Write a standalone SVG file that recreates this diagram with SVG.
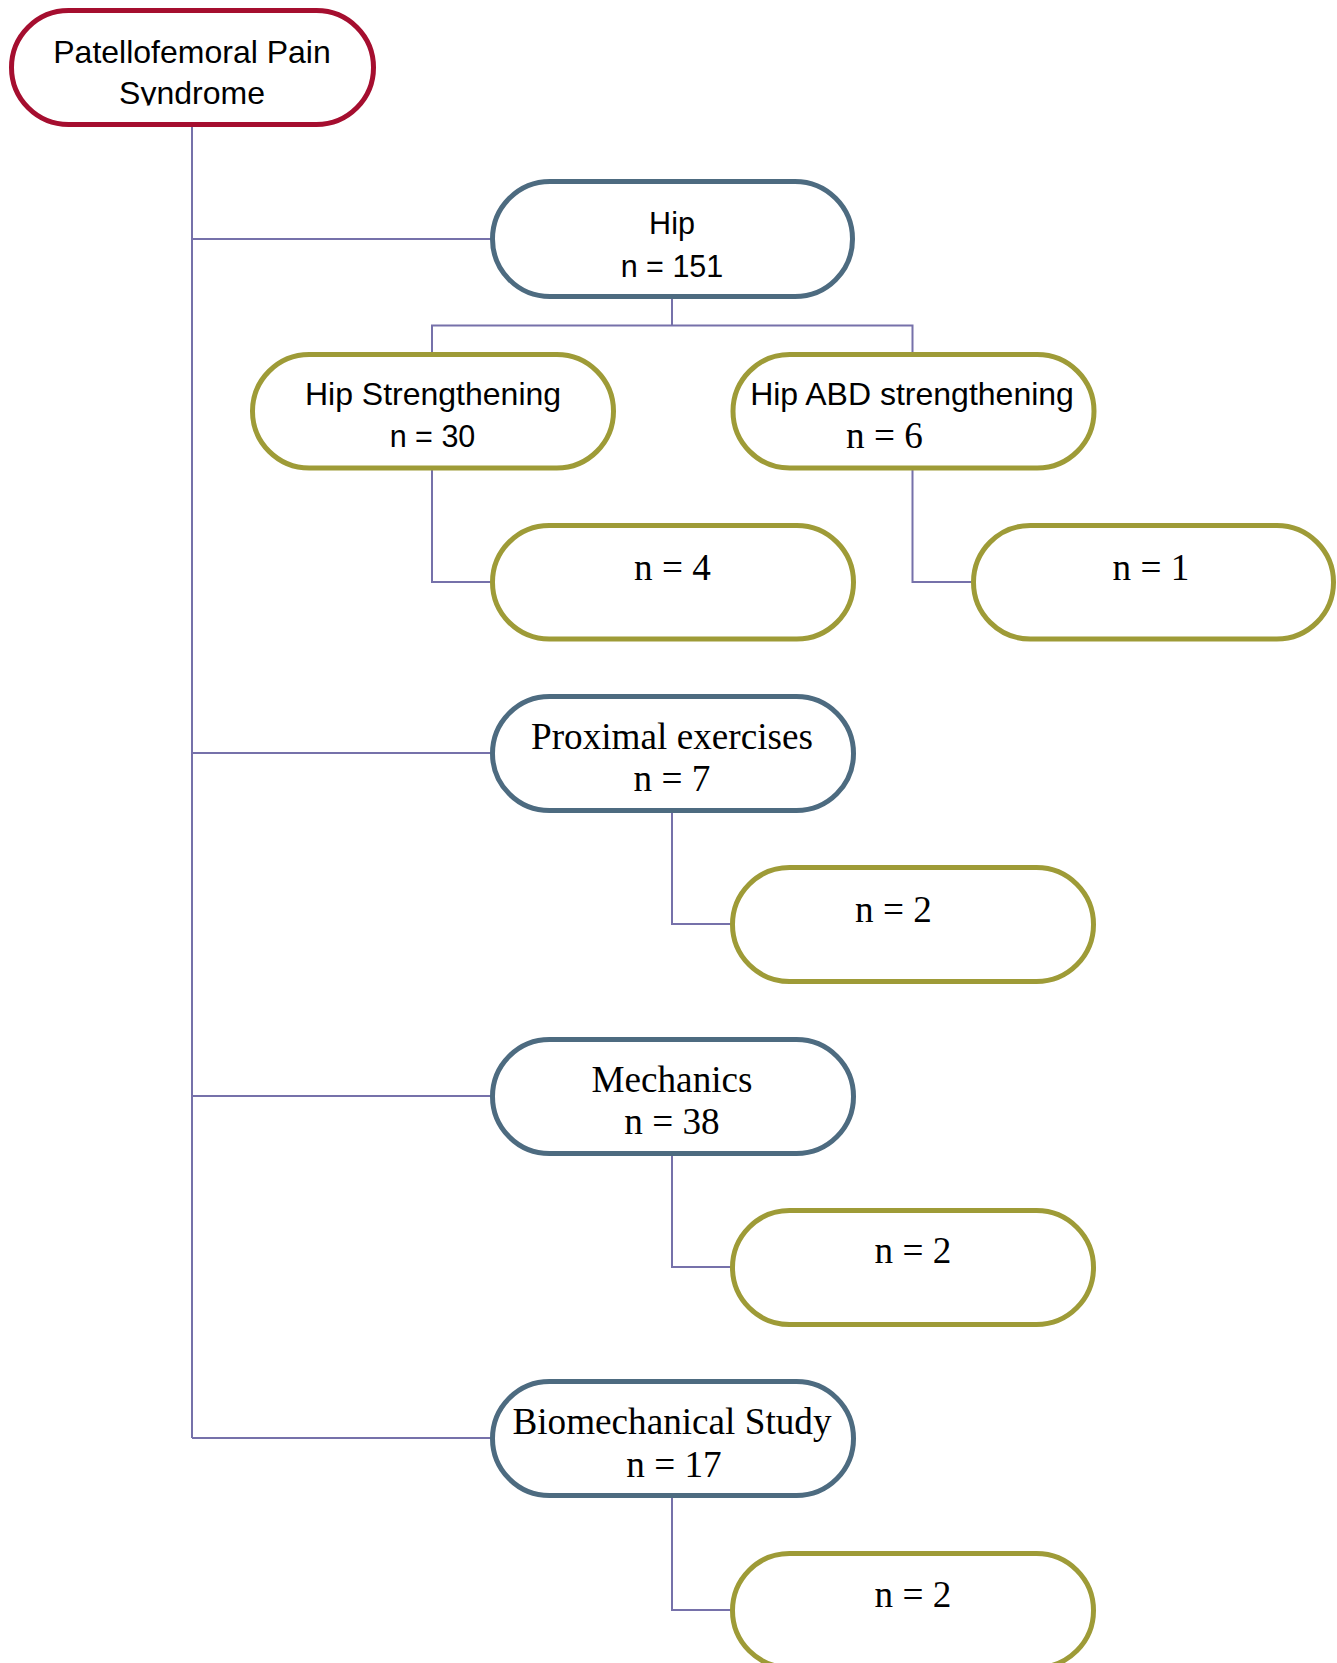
<svg xmlns="http://www.w3.org/2000/svg" width="1337" height="1663" viewBox="0 0 1337 1663">
<defs>
<style>
.box{fill:#ffffff;stroke-width:5}
.root{stroke:#A50E2F}
.blue{stroke:#4D6B80}
.olive{stroke:#9E9B37}
.sans{font-family:"Liberation Sans",Arial,sans-serif;font-size:30.5px;fill:#000;text-anchor:middle}
.sans.lg{font-size:32px}
.serif{font-family:"Liberation Serif","Times New Roman",serif;font-size:37.2px;fill:#000;text-anchor:middle}
.conn{fill:none;stroke:#7671AA;stroke-width:2}
</style>
<clipPath id="rootclip"><rect x="0" y="0" width="400" height="105.5"/></clipPath>
</defs>
<rect width="1337" height="1663" fill="#ffffff"/>
<g id="connectors" class="conn">
<path d="M192,124.5 V1438"/>
<path d="M192,239 H492.5"/>
<path d="M192,753 H492.5"/>
<path d="M192,1096 H492.5"/>
<path d="M192,1438 H492.5"/>
<path d="M672,296.5 V325.6"/>
<path d="M432,354.5 V325.6 H912.5 V354.5"/>
<path d="M432,468 V582 H492.5"/>
<path d="M912.5,468 V582 H973.5"/>
<path d="M672,810.5 V924 H732.5"/>
<path d="M672,1153.5 V1267 H732.5"/>
<path d="M672,1495.5 V1610 H732.5"/>
</g>
<g id="root">
<rect class="box root" x="11.5" y="10.5" width="362" height="114" rx="57" ry="57"/>
<text class="sans lg" x="192" y="63">Patellofemoral Pain</text>
<text class="sans lg" x="192" y="104" clip-path="url(#rootclip)">Syndrome</text>
</g>
<g id="hip">
<rect class="box blue" x="492.5" y="181.5" width="360" height="115" rx="57.5" ry="57.5"/>
<text class="sans" x="672" y="234">Hip</text>
<text class="sans" x="672" y="277">n = 151</text>
</g>
<g id="hip-strengthening">
<rect class="box olive" x="252.5" y="354.5" width="361" height="113.5" rx="56.75" ry="56.75"/>
<text class="sans lg" x="433" y="405">Hip Strengthening</text>
<text class="sans" x="432.5" y="447">n = 30</text>
</g>
<g id="hip-abd">
<rect class="box olive" x="733" y="354.5" width="361" height="113.5" rx="56.75" ry="56.75"/>
<text class="sans lg" x="912" y="405">Hip ABD strengthening</text>
<text class="serif" x="884.5" y="448">n = 6</text>
</g>
<g id="hip-str-n4">
<rect class="box olive" x="492.5" y="525.5" width="361" height="113.5" rx="56.75" ry="56.75"/>
<text class="serif" x="672.5" y="580">n = 4</text>
</g>
<g id="hip-abd-n1">
<rect class="box olive" x="973.5" y="525.5" width="360" height="113.5" rx="56.75" ry="56.75"/>
<text class="serif" x="1151" y="580">n = 1</text>
</g>
<g id="proximal">
<rect class="box blue" x="492.5" y="696.5" width="361" height="114" rx="57" ry="57"/>
<text class="serif" x="672" y="749">Proximal exercises</text>
<text class="serif" x="672" y="791">n = 7</text>
</g>
<g id="proximal-n2">
<rect class="box olive" x="732.5" y="867.5" width="361" height="114" rx="57" ry="57"/>
<text class="serif" x="893.5" y="921.7">n = 2</text>
</g>
<g id="mechanics">
<rect class="box blue" x="492.5" y="1039.5" width="361" height="114" rx="57" ry="57"/>
<text class="serif" x="672" y="1091.7">Mechanics</text>
<text class="serif" x="672" y="1134">n = 38</text>
</g>
<g id="mechanics-n2">
<rect class="box olive" x="732.5" y="1210.5" width="361" height="114" rx="57" ry="57"/>
<text class="serif" x="913" y="1263">n = 2</text>
</g>
<g id="biomechanical">
<rect class="box blue" x="492.5" y="1381.5" width="361" height="114" rx="57" ry="57"/>
<text class="serif" x="672" y="1434">Biomechanical Study</text>
<text class="serif" x="674" y="1477">n = 17</text>
</g>
<g id="biomechanical-n2">
<rect class="box olive" x="732.5" y="1553.5" width="361" height="114" rx="57" ry="57"/>
<text class="serif" x="913" y="1607">n = 2</text>
</g>
</svg>
